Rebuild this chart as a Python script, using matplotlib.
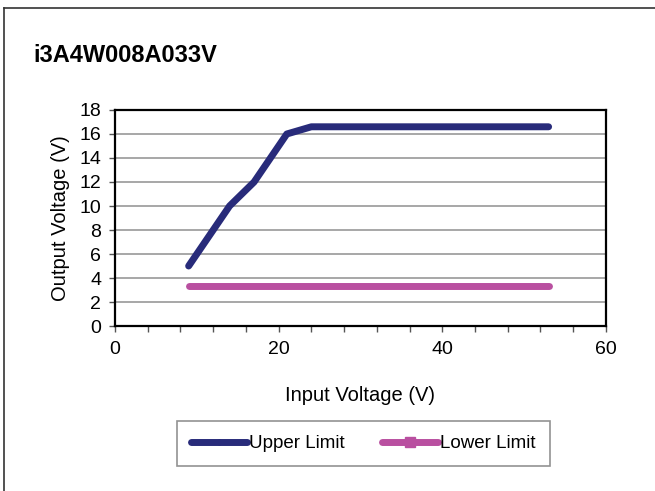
import matplotlib.pyplot as plt
from matplotlib.lines import Line2D

# data
vin_upper = [9, 14, 17, 21, 24, 53]
vout_upper = [5.0, 10.0, 12.0, 16.0, 16.6, 16.6]
vin_lower = [9, 14, 17, 21, 24, 53]
vout_lower = [3.3, 3.3, 3.3, 3.3, 3.3, 3.3]
series_names = ['Upper Limit', 'Lower Limit']
title = 'i3A4W008A033V'

plt.rcParams['font.family'] = ['Liberation Sans', 'DejaVu Sans']

fig = plt.figure(figsize=(6.55, 4.91), dpi=100)
ax = fig.add_axes([0.1756, 0.336, 0.7494, 0.440])

navy = '#282b7a'
pink = '#b94fa0'
ax.plot(vin_upper, vout_upper, color=navy, lw=5, solid_capstyle='round', solid_joinstyle='round')
ax.plot(vin_lower, vout_lower, color=pink, lw=5, solid_capstyle='round')

ax.set_xlim(0, 60)
ax.set_ylim(0, 18)
ax.set_xticks([0, 20, 40, 60])
ax.set_xticks(range(0, 61, 4), minor=True)
ax.set_yticks(range(0, 19, 2))
ax.yaxis.grid(True, color='#a0a0a0', lw=1.3)
ax.set_axisbelow(True)
for s in ax.spines.values():
    s.set_linewidth(1.6)
    s.set_color('black')
ax.tick_params(axis='both', which='major', labelsize=14, length=4, width=1, color='#555555')
ax.tick_params(axis='x', which='minor', length=4, width=1, color='#555555')
ax.tick_params(axis='x', pad=7)
ax.tick_params(axis='y', pad=6)

ax.set_xlabel('Input Voltage (V)', fontsize=14.5, labelpad=20)
ax.set_ylabel('Output Voltage (V)', fontsize=14.5, labelpad=7)

fig.text(33 / 655, 1 - 55 / 491, title, fontsize=17, fontweight='bold',
         va='center', ha='left')

# figure frame (left and top edges)
fig.add_artist(Line2D([4 / 655, 4 / 655], [0, 1 - 8 / 491], transform=fig.transFigure, color='#333333', lw=1.2))
fig.add_artist(Line2D([4 / 655, 1], [1 - 8 / 491, 1 - 8 / 491], transform=fig.transFigure, color='#333333', lw=1.2))

handles = [
    Line2D([], [], color=navy, lw=5, marker='D', markersize=3, solid_capstyle='round'),
    Line2D([], [], color=pink, lw=5, marker='s', markersize=7, solid_capstyle='round'),
]
leg = fig.legend(handles, series_names, loc='center', bbox_to_anchor=(363 / 655, 1 - 443.5 / 491),
                 ncol=2, fontsize=13.5, frameon=True, fancybox=False, edgecolor='#777777',
                 handlelength=3.0, handletextpad=0.1, columnspacing=2.0, borderpad=0.75)
leg.get_frame().set_linewidth(1.2)

fig.savefig('out.png', dpi=100)
